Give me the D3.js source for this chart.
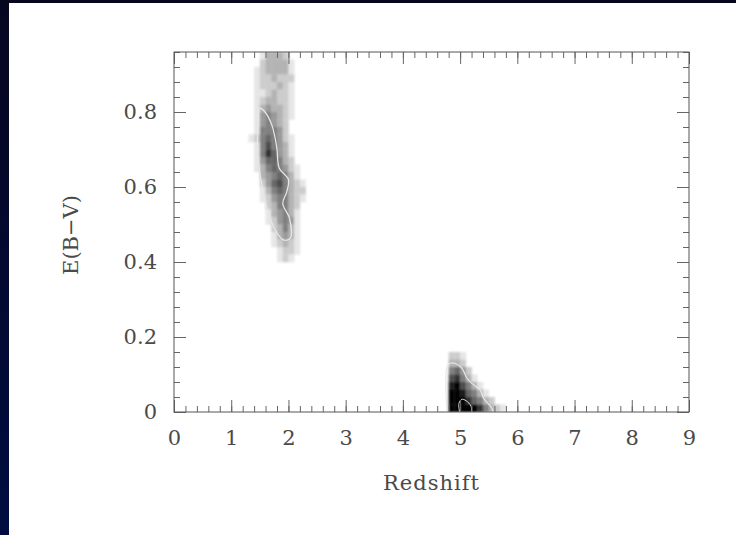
<!DOCTYPE html>
<html>
<head>
<meta charset="utf-8">
<script src="https://cdn.jsdelivr.net/npm/d3@7"></script>
<style>
  html, body { margin: 0; padding: 0; overflow: hidden; background: #000; }
  #chart { width: 736px; height: 535px; }
  text { font-family: "DejaVu Serif", "Liberation Serif", serif; fill: #4a4a4a; }
</style>
</head>
<body>
<div id="chart"></div>
<script>
// bin sizes of the 2D histogram
const zStep = 0.1;
const eStep = 0.02;

// low-redshift clump (z ~ 1.3 - 2.3), darkness 0 (white) .. 10 (black)
const lowZColumns = [1.3, 1.4, 1.5, 1.6, 1.7, 1.8, 1.9, 2.0, 2.1, 2.2];
const lowZRows = [0.94, 0.92, 0.90, 0.88, 0.86, 0.84, 0.82, 0.80, 0.78, 0.76, 0.74, 0.72, 0.70, 0.68,
                  0.66, 0.64, 0.62, 0.60, 0.58, 0.56, 0.54, 0.52, 0.50, 0.48, 0.46, 0.44, 0.42, 0.40];
const lowZDensity = [
    [0, 0, 1, 3, 3, 3, 2, 0, 0, 0],
    [0, 0, 2, 3, 3, 3, 3, 1, 0, 0],
    [0, 1, 2, 3, 3, 3, 3, 1, 0, 0],
    [0, 1, 2, 2, 3, 2, 2, 2, 0, 0],
    [0, 1, 2, 2, 2, 3, 2, 1, 0, 0],
    [0, 1, 1, 2, 3, 2, 2, 1, 0, 0],
    [0, 1, 2, 3, 3, 2, 2, 1, 0, 0],
    [0, 1, 3, 4, 3, 3, 2, 1, 0, 0],
    [0, 1, 4, 5, 4, 3, 2, 1, 0, 0],
    [0, 1, 4, 5, 4, 3, 2, 0, 0, 0],
    [0, 1, 5, 5, 5, 4, 2, 0, 0, 0],
    [1, 2, 5, 6, 5, 4, 2, 1, 0, 0],
    [0, 1, 5, 7, 5, 4, 3, 1, 0, 0],
    [0, 1, 5, 8, 6, 4, 3, 1, 0, 0],
    [0, 1, 4, 6, 6, 5, 3, 2, 0, 0],
    [0, 1, 3, 5, 6, 5, 4, 2, 1, 0],
    [0, 0, 3, 4, 5, 6, 5, 3, 1, 0],
    [0, 0, 2, 4, 6, 7, 5, 3, 2, 1],
    [0, 0, 1, 3, 5, 6, 5, 3, 2, 2],
    [0, 0, 1, 2, 4, 5, 5, 3, 2, 1],
    [0, 0, 0, 2, 3, 5, 5, 3, 2, 0],
    [0, 0, 0, 1, 3, 4, 5, 3, 1, 0],
    [0, 0, 0, 1, 2, 4, 5, 4, 1, 0],
    [0, 0, 0, 0, 2, 3, 5, 3, 1, 0],
    [0, 0, 0, 0, 1, 3, 4, 3, 1, 0],
    [0, 0, 0, 0, 1, 2, 3, 2, 1, 0],
    [0, 0, 0, 0, 0, 1, 2, 2, 1, 0],
    [0, 0, 0, 0, 0, 1, 2, 1, 0, 0]
];

// high-redshift clump (z ~ 4.7 - 5.9)
const highZColumns = [4.7, 4.8, 4.9, 5.0, 5.1, 5.2, 5.3, 5.4, 5.5, 5.6, 5.7, 5.8];
const highZRows = [0.14, 0.12, 0.10, 0.08, 0.06, 0.04, 0.02, 0.00];
const highZDensity = [
    [0, 2, 2, 1, 0, 0, 0, 0, 0, 0, 0, 0],
    [0, 3, 3, 2, 0, 0, 0, 0, 0, 0, 0, 0],
    [0, 5, 6, 4, 2, 0, 0, 0, 0, 0, 0, 0],
    [0, 7, 8, 5, 3, 1, 0, 0, 0, 0, 0, 0],
    [0, 9, 10, 7, 5, 3, 1, 0, 0, 0, 0, 0],
    [0, 10, 10, 9, 6, 5, 3, 1, 0, 0, 0, 0],
    [0, 10, 10, 10, 8, 6, 5, 3, 2, 0, 0, 0],
    [0, 10, 10, 10, 10, 10, 8, 5, 3, 2, 1, 0]
];

// confidence contours, [redshift, E(B-V)]
const lowZContour = [[1.50, 0.81], [1.59, 0.80], [1.71, 0.765], [1.795, 0.707], [1.84, 0.65], [2.0, 0.62],
                     [1.97, 0.587], [1.90, 0.556], [2.02, 0.516], [2.03, 0.463], [1.91, 0.459], [1.74, 0.494],
                     [1.59, 0.565], [1.52, 0.619], [1.46, 0.69], [1.47, 0.77]];
const highZContour = [[4.77, 0.0], [4.77, 0.121], [4.825, 0.13], [4.91, 0.13], [5.03, 0.117], [5.12, 0.09],
                      [5.20, 0.077], [5.35, 0.059], [5.41, 0.037], [5.555, 0.01], [5.58, 0.0]];
const highZInner = [[4.99, 0.0], [4.98, 0.023], [5.03, 0.034], [5.105, 0.03], [5.19, 0.016], [5.20, 0.0]];

// axis ticks
const xMajorTicks = [0, 1, 2, 3, 4, 5, 6, 7, 8, 9];
const xTickLabels = ["0", "1", "2", "3", "4", "5", "6", "7", "8", "9"];
const yMajorTicks = [0, 0.2, 0.4, 0.6, 0.8];
const yTickLabels = ["0", "0.2", "0.4", "0.6", "0.8"];

let margin = {top: 52, right: 47, bottom: 123, left: 174};
let width = 736 - margin.left - margin.right;
let height = 535 - margin.top - margin.bottom;

let svg = d3.select("#chart").append("svg")
    .attr("width", 736)
    .attr("height", 535);

// dark blue frame around the white page
let defs = svg.append("defs");
let grad = defs.append("linearGradient")
    .attr("id", "bg")
    .attr("x1", 0).attr("y1", 0).attr("x2", 0).attr("y2", 1);
grad.append("stop").attr("offset", "0%").attr("stop-color", "#06061f");
grad.append("stop").attr("offset", "100%").attr("stop-color", "#000d40");

defs.append("filter").attr("id", "soft")
    .append("feGaussianBlur").attr("stdDeviation", 0.9);

defs.append("clipPath").attr("id", "plotclip")
    .append("rect").attr("width", width).attr("height", height);

svg.append("rect")
    .attr("width", 736).attr("height", 535)
    .attr("fill", "url(#bg)");
svg.append("rect")
    .attr("x", 9).attr("y", 3)
    .attr("width", 736 - 9).attr("height", 535 - 3)
    .attr("fill", "#fff");

let g = svg.append("g")
    .attr("transform", `translate(${margin.left}, ${margin.top})`);

let x = d3.scaleLinear().domain([0, 9]).range([0, width]);
let y = d3.scaleLinear().domain([0, 0.96]).range([height, 0]);
let grey = d3.scaleLinear().domain([0, 10]).range(["#ffffff", "#000000"]);

// flatten the grids into cells
function toCells(columns, rows, density) {
    let cells = [];
    rows.forEach((e, i) => {
        columns.forEach((z, j) => {
            if (density[i][j] > 0) cells.push({z: z, e: e, v: density[i][j]});
        });
    });
    return cells;
}
let cells = toCells(lowZColumns, lowZRows, lowZDensity)
    .concat(toCells(highZColumns, highZRows, highZDensity));

let plot = g.append("g").attr("clip-path", "url(#plotclip)");

plot.append("g")
    .attr("filter", "url(#soft)")
    .selectAll("rect")
    .data(cells)
    .enter().append("rect")
    .attr("x", d => x(d.z))
    .attr("y", d => y(d.e + eStep))
    .attr("width", d => x(d.z + zStep) - x(d.z) + 0.3)
    .attr("height", d => y(d.e) - y(d.e + eStep) + 0.3)
    .attr("fill", d => grey(d.v));

let line = d3.line()
    .x(d => x(d[0]))
    .y(d => y(d[1]));

plot.append("path")
    .datum(lowZContour)
    .attr("d", line.curve(d3.curveCatmullRomClosed))
    .attr("fill", "none")
    .attr("stroke", "#e8e8e8")
    .attr("stroke-width", 1.2);

plot.append("path")
    .datum(highZContour)
    .attr("d", line.curve(d3.curveCatmullRom))
    .attr("fill", "none")
    .attr("stroke", "#e8e8e8")
    .attr("stroke-width", 1.2);

plot.append("path")
    .datum(highZInner)
    .attr("d", line.curve(d3.curveCatmullRom))
    .attr("fill", "none")
    .attr("stroke", "#dddddd")
    .attr("stroke-width", 1);

// axes: ticks point inward on all four sides
let minorX = d3.range(0, 9.001, 0.2);
let minorY = d3.range(0, 0.961, 0.04);

function styleAxis(sel) {
    sel.select(".domain").remove();
    sel.selectAll("line").attr("stroke", "#666");
    sel.selectAll("text").attr("font-size", "21px").attr("fill", "#4a4a4a");
}

g.append("g").attr("transform", `translate(0, ${height})`)
    .call(d3.axisBottom(x).tickValues(minorX).tickSize(-6).tickFormat(""))
    .call(styleAxis);
g.append("g").attr("transform", `translate(0, ${height})`)
    .call(d3.axisBottom(x).tickValues(xMajorTicks).tickSize(-12).tickPadding(18)
        .tickFormat((d, i) => xTickLabels[i]))
    .call(styleAxis);

g.append("g")
    .call(d3.axisTop(x).tickValues(minorX).tickSize(-6).tickFormat(""))
    .call(styleAxis);
g.append("g")
    .call(d3.axisTop(x).tickValues(xMajorTicks).tickSize(-12).tickFormat(""))
    .call(styleAxis);

g.append("g")
    .call(d3.axisLeft(y).tickValues(minorY).tickSize(-6).tickFormat(""))
    .call(styleAxis);
g.append("g")
    .call(d3.axisLeft(y).tickValues(yMajorTicks).tickSize(-12).tickPadding(17)
        .tickFormat((d, i) => yTickLabels[i]))
    .call(styleAxis);

g.append("g").attr("transform", `translate(${width}, 0)`)
    .call(d3.axisRight(y).tickValues(minorY).tickSize(-6).tickFormat(""))
    .call(styleAxis);
g.append("g").attr("transform", `translate(${width}, 0)`)
    .call(d3.axisRight(y).tickValues(yMajorTicks).tickSize(-12).tickFormat(""))
    .call(styleAxis);

// frame
g.append("rect")
    .attr("width", width).attr("height", height)
    .attr("fill", "none")
    .attr("stroke", "#555")
    .attr("stroke-width", 1);

// axis titles
g.append("text")
    .attr("x", width / 2)
    .attr("y", height + 78)
    .attr("text-anchor", "middle")
    .attr("font-size", "21px")
    .attr("letter-spacing", "1px")
    .text("Redshift");

g.append("text")
    .attr("transform", "rotate(-90)")
    .attr("x", -(height / 2) - 3)
    .attr("y", -96)
    .attr("text-anchor", "middle")
    .attr("font-size", "21px")
    .text("E(B\u2212V)");
</script>
</body>
</html>
